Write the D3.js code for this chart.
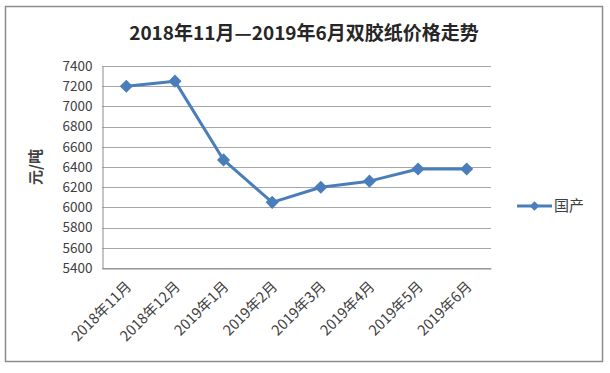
<!DOCTYPE html>
<html>
<head>
<meta charset="utf-8">
<script src="https://cdn.jsdelivr.net/npm/d3@7"></script>
<style>
  body { margin: 0; background: #fff; }
  svg { display: block; }
</style>
</head>
<body>
<div class="chart"></div>
<script>
const months = ['2018年11月', '2018年12月', '2019年1月', '2019年2月', '2019年3月', '2019年4月', '2019年5月', '2019年6月'];
const prices = [7200, 7250, 6470, 6050, 6200, 6260, 6380, 6380];
const yTicks = [5400, 5600, 5800, 6000, 6200, 6400, 6600, 6800, 7000, 7200, 7400];
const seriesName = '国产';
const title = '2018年11月—2019年6月双胶纸价格走势';

const W = 610, H = 373;
const font = '"Noto Sans CJK SC", "Noto Sans", sans-serif';
const blue = '#4a7ebb';

const svg = d3.select('.chart').append('svg')
    .attr('width', W)
    .attr('height', H);

// outer frame
svg.append('rect')
    .attr('x', 5.5).attr('y', 6.5)
    .attr('width', 597).attr('height', 355)
    .attr('fill', '#fff')
    .attr('stroke', '#8c8c8c')
    .attr('stroke-width', 1.5);

const x = d3.scaleBand().domain(months).range([102, 491]);
const y = d3.scaleLinear().domain([5400, 7400]).range([268, 66]);

// gridlines
svg.append('g')
    .selectAll('line')
    .data(yTicks)
    .join('line')
        .attr('x1', 102).attr('x2', 491)
        .attr('y1', d => Math.round(y(d)) + 0.5)
        .attr('y2', d => Math.round(y(d)) + 0.5)
        .attr('stroke', '#a6a6a6')
        .attr('stroke-width', 1);

// y axis
const yAxis = svg.append('g')
    .attr('transform', 'translate(102.5,0)')
    .call(d3.axisLeft(y).tickValues(yTicks).tickSize(0).tickPadding(10).tickFormat(d3.format('d')));
yAxis.select('.domain').attr('stroke', '#8c8c8c');
yAxis.selectAll('text')
    .attr('font-family', font)
    .attr('font-size', 13.5)
    .attr('fill', '#404040');

// x axis
const xAxis = svg.append('g')
    .attr('transform', 'translate(0,268.5)')
    .call(d3.axisBottom(x).tickSize(0).tickPadding(0));
xAxis.select('.domain').attr('stroke', '#8c8c8c');
xAxis.selectAll('text')
    .attr('font-family', font)
    .attr('font-size', 14.5)
    .attr('fill', '#404040')
    .attr('text-anchor', 'end')
    .attr('dy', 0)
    .attr('transform', 'translate(6,19) rotate(-45)');

// y title
svg.append('text')
    .attr('transform', 'translate(41,167) rotate(-90)')
    .attr('text-anchor', 'middle')
    .attr('font-family', font)
    .attr('font-size', 15)
    .attr('font-weight', 'bold')
    .attr('fill', '#404040')
    .text('元/吨');

// chart title
svg.append('text')
    .attr('x', 304).attr('y', 40)
    .attr('text-anchor', 'middle')
    .attr('font-family', font)
    .attr('font-size', 19)
    .attr('font-weight', 'bold')
    .attr('fill', '#262626')
    .text(title);

// line
const cx = d => x(d) + x.bandwidth() / 2;
const line = d3.line()
    .x((d, i) => cx(months[i]))
    .y(d => y(d));

svg.append('path')
    .datum(prices)
    .attr('d', line)
    .attr('fill', 'none')
    .attr('stroke', blue)
    .attr('stroke-width', 3)
    .attr('stroke-linejoin', 'round');

const diamond = d3.symbol().type(d3.symbolDiamond2).size(110);
svg.append('g')
    .selectAll('path')
    .data(prices)
    .join('path')
        .attr('d', diamond)
        .attr('transform', (d, i) => `translate(${cx(months[i])},${y(d)})`)
        .attr('fill', blue);

// legend
const lg = svg.append('g').attr('transform', 'translate(517,206)');
lg.append('line')
    .attr('x1', 0).attr('x2', 35)
    .attr('stroke', blue).attr('stroke-width', 3);
lg.append('path')
    .attr('d', d3.symbol().type(d3.symbolDiamond2).size(60))
    .attr('transform', 'translate(17.5,0)')
    .attr('fill', blue);
lg.append('text')
    .attr('x', 37).attr('y', 5)
    .attr('font-family', font)
    .attr('font-size', 15)
    .attr('fill', '#404040')
    .text(seriesName);
</script>
</body>
</html>
